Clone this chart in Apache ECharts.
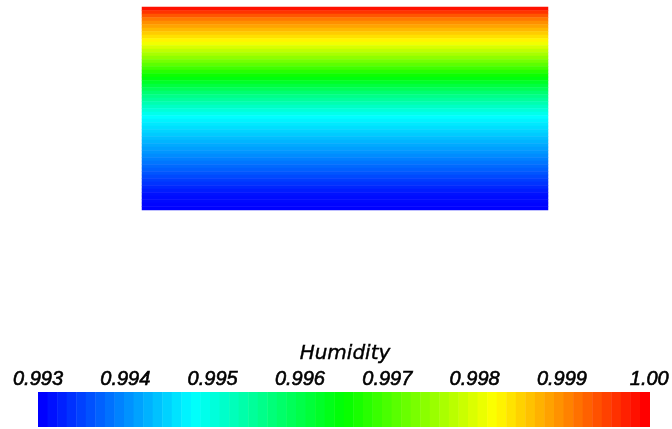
<!DOCTYPE html>
<html>
<head>
<meta charset="utf-8">
<script src="https://cdn.jsdelivr.net/npm/echarts@6/dist/echarts.min.js"></script>
<style>
  html, body { margin: 0; padding: 0; background: #ffffff; }
  #chart { width: 672px; height: 429px; }
</style>
</head>
<body>
<div id="chart"></div>
<script>
// Colour-bar tick labels and range
const humidityTicks = ['0.993', '0.994', '0.995', '0.996', '0.997', '0.998', '0.999', '1.00'];
const humidityMin = 0.993;
const humidityMax = 1.0;

// Humidity per mesh row, top row first (uniform across each row)
const rowHumidity = [
  0.99988, 0.99965, 0.99941, 0.99918, 0.99902, 0.99888, 0.99874, 0.99860,
  0.99846, 0.99832, 0.99816, 0.99799, 0.99782, 0.99765, 0.99748, 0.99731,
  0.99713, 0.99695, 0.99677, 0.99659, 0.99641, 0.99624, 0.99607, 0.99590,
  0.99573, 0.99557, 0.99543, 0.99529, 0.99515, 0.99502, 0.99488, 0.99474,
  0.99467, 0.99460, 0.99453, 0.99446, 0.99439, 0.99431, 0.99424, 0.99417,
  0.99410, 0.99403, 0.99396, 0.99388, 0.99381, 0.99373, 0.99366, 0.99358,
  0.99350, 0.99342, 0.99335, 0.99327, 0.99319, 0.99312, 0.99308, 0.99306,
  0.99303, 0.99301
];

// Column labels of the field
const columns = [''];

// Rainbow lookup table; the colour bar shows it in 64 entries
const tableSize = 64;
const rainbow = ['#0000ff', '#00ffff', '#00ff00', '#ffff00', '#ff0000'];

const rowIds = rowHumidity.map((_, i) => String(i));
const cells = [];
rowHumidity.forEach((v, r) => {
  columns.forEach((_, c) => cells.push([c, r, v]));
});

const step = (humidityMax - humidityMin) / tableSize;
const pieces = [];
for (let i = 0; i < tableSize; i++) {
  pieces.push({
    gte: humidityMin + step * i,
    lt: i === tableSize - 1 ? humidityMax + 1e-9 : humidityMin + step * (i + 1)
  });
}

// Colour-bar swatches overlap slightly so no seams show between them
const barWidth = 612;
const swatchWidth = 10;
const swatchGap = (barWidth - tableSize * swatchWidth) / (tableSize - 1);

const chart = echarts.init(document.getElementById('chart'), null, { renderer: 'canvas' });

chart.setOption({
  backgroundColor: '#ffffff',
  animation: false,
  grid: [
    { left: 142, top: 7, width: 406, height: 203 },
    { left: 38, top: 392, width: barWidth, height: 35 }
  ],
  xAxis: [
    {
      gridIndex: 0, type: 'category', data: columns,
      show: false
    },
    {
      gridIndex: 1, type: 'category', data: humidityTicks,
      boundaryGap: false, position: 'top',
      axisLine: { show: false }, axisTick: { show: false }, splitLine: { show: false },
      axisLabel: {
        interval: 0, margin: 3,
        fontFamily: 'Liberation Sans', fontStyle: 'italic', fontSize: 20, color: '#000000',
        textBorderColor: '#000000', textBorderWidth: 0.6
      }
    }
  ],
  yAxis: [
    {
      gridIndex: 0, type: 'category', data: rowIds, inverse: true,
      show: false
    },
    { gridIndex: 1, type: 'value', show: false }
  ],
  visualMap: [
    {
      // smooth colouring of the field
      type: 'continuous',
      show: false,
      seriesIndex: 0,
      min: humidityMin,
      max: humidityMax,
      inRange: { color: rainbow }
    },
    {
      // stepped colour bar
      type: 'piecewise',
      seriesIndex: [],
      pieces: pieces,
      orient: 'horizontal',
      left: 38,
      top: 392,
      padding: 0,
      itemWidth: swatchWidth,
      itemHeight: 35,
      itemGap: swatchGap,
      itemSymbol: 'rect',
      showLabel: false,
      selectedMode: false,
      hoverLink: false,
      inRange: { color: rainbow }
    }
  ],
  graphic: [
    {
      type: 'text',
      x: 345, y: 354,
      style: {
        text: 'Humidity',
        font: 'italic 20px "DejaVu Sans"',
        fill: '#000000',
        stroke: '#000000',
        lineWidth: 0.4,
        align: 'center',
        verticalAlign: 'middle'
      }
    }
  ],
  series: [
    {
      type: 'heatmap',
      xAxisIndex: 0, yAxisIndex: 0,
      data: cells,
      itemStyle: { borderWidth: 0 },
      emphasis: { disabled: true }
    }
  ]
});
</script>
</body>
</html>
